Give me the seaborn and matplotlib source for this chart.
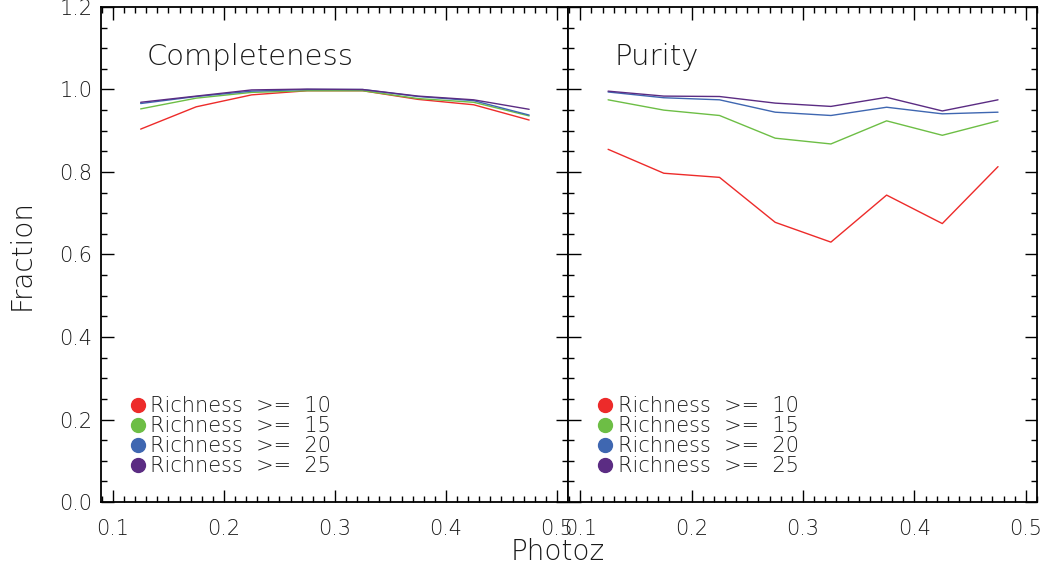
import numpy as np
import pandas as pd
import matplotlib
matplotlib.use("Agg")
import matplotlib.pyplot as plt
import seaborn as sns
from matplotlib.lines import Line2D
from matplotlib.ticker import MultipleLocator, FormatStrFormatter

photoz = [0.125, 0.175, 0.225, 0.275, 0.325, 0.375, 0.425, 0.475]
richness = [10, 15, 20, 25]

completeness_10 = [0.904, 0.958, 0.987, 0.997, 0.997, 0.976, 0.963, 0.926]
completeness_15 = [0.953, 0.979, 0.993, 0.997, 0.997, 0.978, 0.969, 0.936]
completeness_20 = [0.966, 0.983, 0.996, 1.000, 1.000, 0.983, 0.973, 0.938]
completeness_25 = [0.969, 0.984, 0.999, 1.001, 1.000, 0.984, 0.975, 0.952]

purity_10 = [0.855, 0.797, 0.787, 0.678, 0.630, 0.744, 0.675, 0.813]
purity_15 = [0.975, 0.950, 0.937, 0.882, 0.868, 0.924, 0.889, 0.924]
purity_20 = [0.994, 0.980, 0.975, 0.945, 0.937, 0.957, 0.941, 0.945]
purity_25 = [0.996, 0.984, 0.983, 0.967, 0.959, 0.981, 0.948, 0.975]

panel_titles = ["Completeness", "Purity"]
colors = ["#ED2B2A", "#6DBE45", "#3F67B1", "#5B2C83"]

def long_frame(series):
    rows = []
    for r, vals in zip(richness, series):
        for x, v in zip(photoz, vals):
            rows.append({"Photoz": x, "Fraction": v, "Richness": r})
    return pd.DataFrame(rows)

df_c = long_frame([completeness_10, completeness_15, completeness_20, completeness_25])
df_p = long_frame([purity_10, purity_15, purity_20, purity_25])

sns.set_style("ticks")
plt.rcParams["font.family"] = ["DejaVu Sans"]
plt.rcParams["font.weight"] = "light"
TXT = "#1a1a1a"

W, H = 1047, 572
fig = plt.figure(figsize=(W / 100, H / 100), dpi=100)
bottom = 1 - 502 / H
height = (502 - 7) / H
ax1 = fig.add_axes([100.7 / W, bottom, (568 - 100.7) / W, height])
ax2 = fig.add_axes([568 / W, bottom, (1037 - 568) / W, height])

palette = dict(zip(richness, colors))
for ax, df, title in zip([ax1, ax2], [df_c, df_p], panel_titles):
    sns.lineplot(data=df, x="Photoz", y="Fraction", hue="Richness",
                 palette=palette, ax=ax, legend=False, linewidth=1.0,
                 estimator=None, sort=False)
    ax.set_xlim(0.089, 0.51)
    ax.set_ylim(0.0, 1.2)
    ax.xaxis.set_major_locator(MultipleLocator(0.1))
    ax.xaxis.set_minor_locator(MultipleLocator(0.01))
    ax.yaxis.set_major_locator(MultipleLocator(0.2))
    ax.yaxis.set_minor_locator(MultipleLocator(0.05))
    ax.tick_params(which="both", direction="in", top=True, right=True,
                   colors="black", labelcolor=TXT, width=1.0)
    ax.tick_params(which="major", length=9)
    ax.tick_params(which="minor", length=4.5)
    ax.tick_params(axis="x", which="major", labelsize=15, pad=12)
    ax.tick_params(axis="y", which="major", labelsize=15, pad=6)
    ax.xaxis.set_major_formatter(FormatStrFormatter("%.1f"))
    ax.yaxis.set_major_formatter(FormatStrFormatter("%.1f"))
    for s in ax.spines.values():
        s.set_linewidth(1.3)
        s.set_color("black")
    ax.set_xlabel("")
    ax.set_ylabel("")
    ax.text(46 / 467, 1 - 50 / 495, title, transform=ax.transAxes, fontsize=21,
            ha="left", va="center", color=TXT)
    handles = [Line2D([], [], linestyle="none", marker="o", markersize=10,
                      color=c) for c in colors]
    labels = [f"Richness  >=  {r}" for r in richness]
    ax.legend(handles, labels, loc="lower left", bbox_to_anchor=(0.035, 0.035),
              frameon=False, fontsize=15, handletextpad=0.0,
              labelspacing=0.0, handlelength=1.2, borderaxespad=0.0,
              labelcolor=TXT)

ax2.tick_params(axis="y", labelleft=False)

fig.text(22 / W, 1 - 255 / H, "Fraction", rotation=90, fontsize=20,
         ha="center", va="center", color=TXT)
fig.text(558 / W, 1 - 552 / H, "Photoz", fontsize=20, ha="center",
         va="center", color=TXT)

fig.savefig("out.png", dpi=100)
